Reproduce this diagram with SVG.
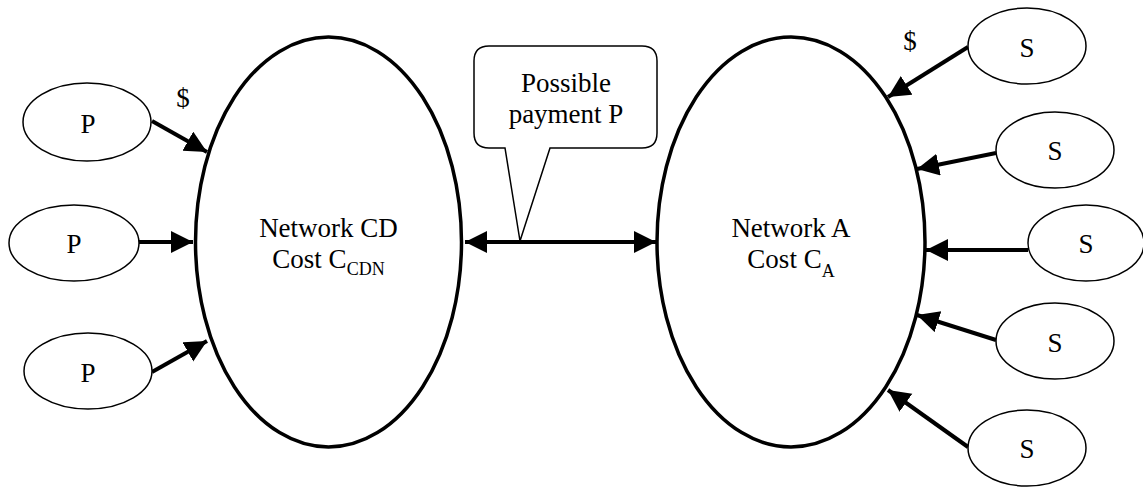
<svg xmlns="http://www.w3.org/2000/svg" width="1143" height="487" viewBox="0 0 1143 487">
<style>
.big{fill:#fff;stroke:#000;stroke-width:3.5}
.small{fill:#fff;stroke:#000;stroke-width:1.5}
.t{font-family:"Liberation Serif","Times New Roman",serif;fill:#000;text-anchor:middle}
.lbl{font-size:27px}
.sub{font-size:18px}
.arr{stroke:#000;stroke-width:4;fill:none}
</style>
<defs>
<marker id="ah" markerUnits="userSpaceOnUse" markerWidth="24" markerHeight="24" refX="22" refY="11" orient="auto">
<path d="M0,0 L22,11 L0,22 Z" fill="#000"/>
</marker>
<marker id="ahs" markerUnits="userSpaceOnUse" markerWidth="24" markerHeight="24" refX="0" refY="11" orient="auto">
<path d="M22,0 L0,11 L22,22 Z" fill="#000"/>
</marker>
</defs>
<rect width="1143" height="487" fill="#fff"/>
<g id="callout">
<path d="M489,46 H642 Q657,46 657,61 V133 Q657,148 642,148 H550 L520,241 L505,148 H489 Q474,148 474,133 V61 Q474,46 489,46 Z" fill="#fff" stroke="#000" stroke-width="1.5"/>
<text class="t lbl" x="566" y="92">Possible</text>
<text class="t lbl" x="566" y="123">payment P</text>
</g>
<g id="connectors">
<line class="arr" x1="152" y1="121" x2="207" y2="152" marker-end="url(#ah)"/>
<line class="arr" x1="138" y1="242" x2="193" y2="242" marker-end="url(#ah)"/>
<line class="arr" x1="152" y1="372" x2="207" y2="341" marker-end="url(#ah)"/>
<line class="arr" x1="465" y1="242" x2="656" y2="242" marker-start="url(#ahs)" marker-end="url(#ah)"/>
<line class="arr" x1="968" y1="47" x2="888" y2="97" marker-end="url(#ah)"/>
<line class="arr" x1="996" y1="153" x2="917" y2="169" marker-end="url(#ah)"/>
<line class="arr" x1="1028" y1="250" x2="926" y2="250" marker-end="url(#ah)"/>
<line class="arr" x1="996" y1="340" x2="917" y2="315" marker-end="url(#ah)"/>
<line class="arr" x1="968" y1="447" x2="888" y2="390" marker-end="url(#ah)"/>
<text class="t lbl" x="183" y="107">$</text>
<text class="t lbl" x="910" y="50">$</text>
</g>
<g id="networkCD">
<ellipse class="big" cx="328.5" cy="242" rx="133" ry="205"/>
<text class="t lbl" x="328.5" y="237">Network CD</text>
<text class="t lbl" x="328.5" y="268" text-anchor="middle">Cost C<tspan class="sub" dy="7">CDN</tspan></text>
</g>
<g id="networkA">
<ellipse class="big" cx="791" cy="242" rx="134" ry="205"/>
<text class="t lbl" x="791" y="237">Network A</text>
<text class="t lbl" x="791" y="268">Cost C<tspan class="sub" dy="9">A</tspan></text>
</g>
<g id="p1"><ellipse class="small" cx="87" cy="122" rx="64" ry="39"/><text class="t lbl" x="88" y="133">P</text></g>
<g id="p2"><ellipse class="small" cx="74" cy="243" rx="65" ry="38"/><text class="t lbl" x="74" y="253">P</text></g>
<g id="p3"><ellipse class="small" cx="88" cy="371" rx="64" ry="38"/><text class="t lbl" x="88" y="382">P</text></g>
<g id="s1"><ellipse class="small" cx="1027" cy="46" rx="59" ry="38"/><text class="t lbl" x="1027" y="57">S</text></g>
<g id="s2"><ellipse class="small" cx="1055" cy="150" rx="59" ry="38"/><text class="t lbl" x="1055" y="160">S</text></g>
<g id="s3"><ellipse class="small" cx="1086" cy="243" rx="58" ry="38"/><text class="t lbl" x="1086" y="253">S</text></g>
<g id="s4"><ellipse class="small" cx="1055" cy="341" rx="59" ry="38"/><text class="t lbl" x="1055" y="352">S</text></g>
<g id="s5"><ellipse class="small" cx="1027" cy="448" rx="59" ry="38"/><text class="t lbl" x="1027" y="458">S</text></g>
</svg>
